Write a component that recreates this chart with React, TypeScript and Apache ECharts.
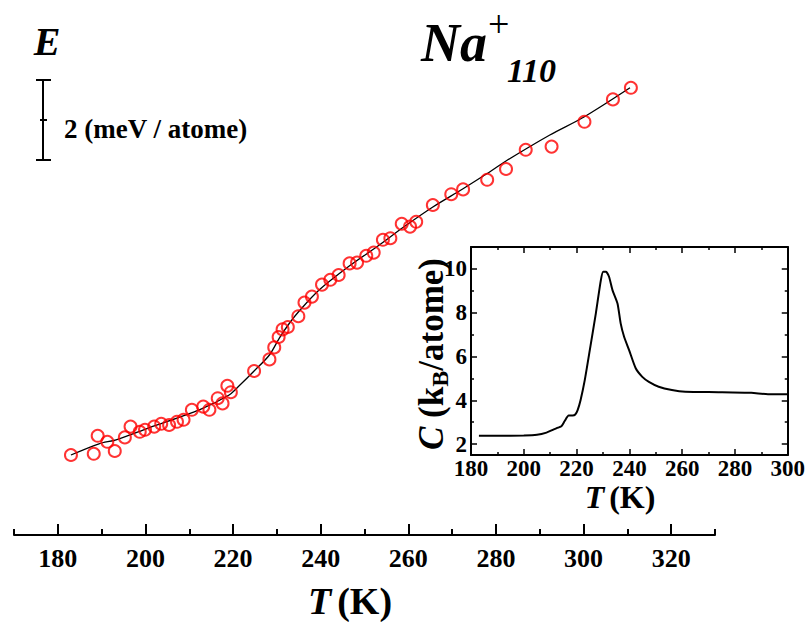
import React, { useEffect, useRef } from 'react';
import * as echarts from 'echarts';

// Main panel: internal energy E vs T (K)
const energyT = [183.0, 188.2, 189.1, 191.3, 193.0, 195.3, 196.6, 198.7, 199.9, 202.0, 203.6, 205.4, 207.2, 208.7, 210.6, 213.2, 214.6, 216.5, 217.6, 218.7, 219.5, 224.8, 228.3, 229.4, 230.4, 231.3, 232.5, 234.9, 236.3, 238.0, 240.3, 242.2, 244.1, 246.6, 248.3, 250.4, 252.1, 254.2, 255.9, 258.5, 260.4, 261.8, 265.6, 269.8, 272.5, 278.0, 282.3, 286.8, 292.7, 300.2, 306.7, 310.8];
const energyE = [2.0, 2.03, 2.48, 2.33, 2.1, 2.44, 2.71, 2.58, 2.63, 2.71, 2.78, 2.75, 2.83, 2.88, 3.13, 3.21, 3.13, 3.42, 3.29, 3.73, 3.57, 4.1, 4.39, 4.69, 4.95, 5.14, 5.2, 5.47, 5.81, 5.96, 6.26, 6.38, 6.5, 6.79, 6.81, 6.98, 7.06, 7.38, 7.42, 7.78, 7.71, 7.83, 8.25, 8.52, 8.64, 8.88, 9.15, 9.63, 9.71, 10.33, 10.89, 11.18];

// Fitted curve through the energy points
const fitT = [183.0, 189.4, 193.3, 200.8, 212.3, 219.1, 221.4, 224.8, 228.3, 230.6, 232.9, 235.1, 239.7, 246.6, 253.4, 258.7, 265.6, 272.4, 277.9, 282.3, 292.3, 300.1, 310.6];
const fitE = [2.0, 2.28, 2.38, 2.68, 3.13, 3.5, 3.73, 4.1, 4.5, 4.93, 5.3, 5.6, 6.13, 6.73, 7.25, 7.68, 8.2, 8.65, 9.03, 9.35, 10.0, 10.45, 11.18];

// Inset: heat capacity C (kB/atome) vs T (K)
const heatT = [183, 190, 200, 205, 208.6, 211, 213, 214.3, 215.5, 217, 218.5, 219.5, 220.4, 221.5, 223.1, 224.8, 227.3, 229.2, 230.1, 231.1, 232.3, 233.6, 235.5, 236.7, 238, 239.9, 242.4, 244.9, 247.4, 251.1, 256.1, 261.2, 273.7, 286.2, 292.5, 300];
const heatC = [2.38, 2.38, 2.39, 2.42, 2.52, 2.65, 2.75, 2.82, 3.05, 3.3, 3.3, 3.35, 3.55, 4.0, 4.92, 6.14, 7.97, 9.49, 9.87, 9.87, 9.64, 9.03, 8.42, 7.51, 6.9, 6.29, 5.46, 5.07, 4.84, 4.62, 4.47, 4.39, 4.37, 4.34, 4.28, 4.28];

// Tick labels
const mainTicks = [180, 200, 220, 240, 260, 280, 300, 320];
const mainMinorTicks = [170, 190, 210, 230, 250, 270, 290, 310, 330];
const insetYTicks = [2, 4, 6, 8, 10];
const insetYMinor = [3, 5, 7, 9];

const FONT = '"Liberation Serif", "Times New Roman", serif';

function measure(text: string, font: string): number {
  const ctx = document.createElement('canvas').getContext('2d');
  if (!ctx) return text.length * 10;
  ctx.font = font;
  return ctx.measureText(text).width;
}

export default function App() {
  const ref = useRef<HTMLDivElement>(null);

  useEffect(() => {
    const chart = echarts.init(ref.current!, null, { renderer: 'svg' });

    // rotated inset y label built from pieces
    const ls = 35;
    const ss = 24;
    const wC = measure('C', `italic bold ${ls}px ${FONT}`);
    const w1 = measure(' (k', `bold ${ls}px ${FONT}`);
    const wB = measure('B', `bold ${ss}px ${FONT}`);
    const w2 = measure('/atome)', `bold ${ls}px ${FONT}`);
    const total = wC + w1 + wB + w2;
    const x0 = -total / 2;
    const pieceStyle = (text: string, size: number, italic: boolean) => ({
      text,
      fontFamily: FONT,
      fontSize: size,
      fontWeight: 'bold',
      fontStyle: italic ? 'italic' : 'normal',
      fill: '#000',
      align: 'left',
      verticalAlign: 'middle',
    });

    const black = '#000';
    const axisBase = {
      axisLine: { show: true, onZero: false, lineStyle: { color: black, width: 2 } },
      splitLine: { show: false },
    };

    const option: any = {
      animation: false,
      backgroundColor: '#fff',
      textStyle: { fontFamily: FONT },
      grid: [
        { left: 14, right: 93, top: 55, bottom: 87 },
        { left: 471, right: 18, top: 247, bottom: 167 },
      ],
      xAxis: [
        {
          ...axisBase,
          type: 'value', gridIndex: 0, min: 170, max: 330, position: 'bottom',
          axisTick: { show: true, inside: true, length: 11, customValues: mainTicks, lineStyle: { color: black, width: 2 } },
          axisLabel: { show: true, customValues: mainTicks, color: black, fontSize: 26, fontWeight: 'bold', fontFamily: FONT, margin: 10 },
        },
        {
          type: 'value', gridIndex: 0, min: 170, max: 330, position: 'bottom',
          axisLine: { show: false, onZero: false },
          splitLine: { show: false },
          axisTick: { show: true, inside: true, length: 6, customValues: mainMinorTicks, lineStyle: { color: black, width: 2 } },
          axisLabel: { show: false },
        },
        {
          ...axisBase,
          type: 'value', gridIndex: 1, min: 180, max: 300, interval: 20, position: 'bottom',
          axisTick: { show: true, inside: true, length: 6, lineStyle: { color: black, width: 1.5 } },
          minorTick: { show: true, splitNumber: 2, length: 3, lineStyle: { color: black, width: 1.5 } },
          axisLabel: { show: true, color: black, fontSize: 23, fontWeight: 'bold', fontFamily: FONT, margin: 2 },
        },
        {
          ...axisBase,
          type: 'value', gridIndex: 1, min: 180, max: 300, interval: 20, position: 'top',
          axisTick: { show: true, inside: true, length: 6, lineStyle: { color: black, width: 1.5 } },
          minorTick: { show: true, splitNumber: 2, length: 3, lineStyle: { color: black, width: 1.5 } },
          axisLabel: { show: false },
        },
      ],
      yAxis: [
        { type: 'value', gridIndex: 0, min: 0, max: 12, show: false },
        {
          ...axisBase,
          type: 'value', gridIndex: 1, min: 1.5, max: 11, position: 'left',
          axisTick: { show: true, inside: true, length: 6, customValues: insetYTicks, lineStyle: { color: black, width: 1.5 } },
          axisLabel: { show: true, customValues: insetYTicks, color: black, fontSize: 23, fontWeight: 'bold', fontFamily: FONT, margin: 4 },
        },
        {
          type: 'value', gridIndex: 1, min: 1.5, max: 11, position: 'left',
          axisLine: { show: false, onZero: false }, splitLine: { show: false },
          axisTick: { show: true, inside: true, length: 3, customValues: insetYMinor, lineStyle: { color: black, width: 1.5 } },
          axisLabel: { show: false },
        },
        {
          ...axisBase,
          type: 'value', gridIndex: 1, min: 1.5, max: 11, position: 'right',
          axisTick: { show: true, inside: true, length: 6, customValues: insetYTicks, lineStyle: { color: black, width: 1.5 } },
          axisLabel: { show: false },
        },
        {
          type: 'value', gridIndex: 1, min: 1.5, max: 11, position: 'right',
          axisLine: { show: false, onZero: false }, splitLine: { show: false },
          axisTick: { show: true, inside: true, length: 3, customValues: insetYMinor, lineStyle: { color: black, width: 1.5 } },
          axisLabel: { show: false },
        },
      ],
      series: [
        {
          type: 'line', xAxisIndex: 0, yAxisIndex: 0,
          data: fitT.map((t, i) => [t, fitE[i]]),
          showSymbol: false, smooth: 0.3,
          lineStyle: { color: black, width: 1.3 }, z: 2,
        },
        {
          type: 'scatter', xAxisIndex: 0, yAxisIndex: 0,
          data: energyT.map((t, i) => [t, energyE[i]]),
          symbol: 'circle', symbolSize: 12,
          itemStyle: { color: 'rgba(0,0,0,0)', borderColor: '#ff0000', borderWidth: 2 }, z: 3,
        },
        {
          type: 'line', xAxisIndex: 2, yAxisIndex: 1,
          data: heatT.map((t, i) => [t, heatC[i]]),
          showSymbol: false, smooth: 0.2,
          lineStyle: { color: black, width: 2 }, z: 2,
        },
      ],
      graphic: [
        // E label
        { type: 'text', x: 47, y: 41, style: { text: 'E', fontFamily: FONT, fontSize: 40, fontWeight: 'bold', fontStyle: 'italic', fill: black, align: 'center', verticalAlign: 'middle' } },
        // scale bar
        { type: 'line', shape: { x1: 43, y1: 80, x2: 43, y2: 160 }, style: { stroke: black, lineWidth: 2 } },
        { type: 'line', shape: { x1: 36, y1: 80, x2: 51, y2: 80 }, style: { stroke: black, lineWidth: 2 } },
        { type: 'line', shape: { x1: 36, y1: 160, x2: 51, y2: 160 }, style: { stroke: black, lineWidth: 2 } },
        { type: 'line', shape: { x1: 40, y1: 120, x2: 47, y2: 120 }, style: { stroke: black, lineWidth: 2 } },
        { type: 'text', x: 64, y: 129, style: { text: '2 (meV / atome)', fontFamily: FONT, fontSize: 27, fontWeight: 'bold', fill: black, align: 'left', verticalAlign: 'middle' } },
        // Na+ 110
        { type: 'text', x: 421, y: 43, style: { text: 'Na', fontFamily: FONT, fontSize: 54, fontWeight: 'bold', fontStyle: 'italic', fill: black, align: 'left', verticalAlign: 'middle' } },
        { type: 'text', x: 488, y: 24, style: { text: '+', fontFamily: FONT, fontSize: 38, fontWeight: 'normal', fill: black, align: 'left', verticalAlign: 'middle' } },
        { type: 'text', x: 507, y: 70, style: { text: '110', fontFamily: FONT, fontSize: 34, fontWeight: 'bold', fontStyle: 'italic', fill: black, align: 'left', verticalAlign: 'middle' } },
        // main axis title
        {
          type: 'text', x: 350, y: 601,
          style: {
            text: '{i|T}{n|(K)}', align: 'center', verticalAlign: 'middle',
            rich: {
              i: { fontFamily: FONT, fontSize: 38, fontWeight: 'bold', fontStyle: 'italic', fill: black, padding: [0, 6, 0, 0] },
              n: { fontFamily: FONT, fontSize: 38, fontWeight: 'bold', fill: black },
            },
          },
        },
        // inset axis title
        {
          type: 'text', x: 620, y: 497,
          style: {
            text: '{i|T}{n|(K)}', align: 'center', verticalAlign: 'middle',
            rich: {
              i: { fontFamily: FONT, fontSize: 32, fontWeight: 'bold', fontStyle: 'italic', fill: black, padding: [0, 5, 0, 0] },
              n: { fontFamily: FONT, fontSize: 32, fontWeight: 'bold', fill: black },
            },
          },
        },
        // inset y label (rotated)
        {
          type: 'group', x: 431, y: 354, rotation: Math.PI / 2,
          children: [
            { type: 'text', x: x0, y: 0, style: pieceStyle('C', ls, true) },
            { type: 'text', x: x0 + wC, y: 0, style: pieceStyle(' (k', ls, false) },
            { type: 'text', x: x0 + wC + w1, y: 9, style: pieceStyle('B', ss, false) },
            { type: 'text', x: x0 + wC + w1 + wB, y: 0, style: pieceStyle('/atome)', ls, false) },
          ],
        },
      ],
    };

    chart.setOption(option);
    return () => chart.dispose();
  }, []);

  return <div ref={ref} style={{ position: 'absolute', left: 0, top: 0, width: 808, height: 622 }} />;
}
